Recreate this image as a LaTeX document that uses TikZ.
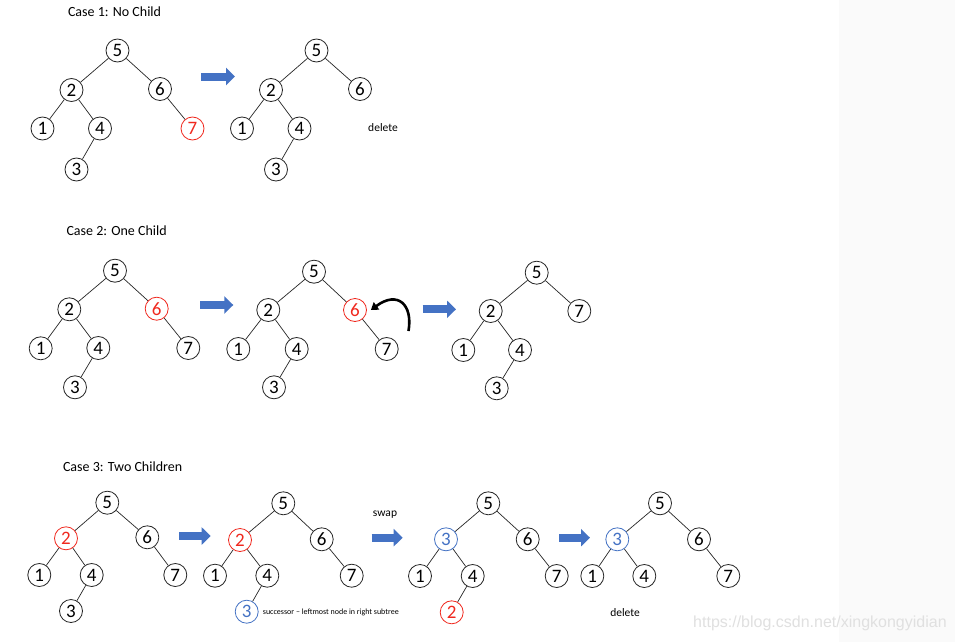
\documentclass[tikz,border=0pt]{standalone}
\usepackage{fontspec}
\setmainfont{Carlito}
\newfontfamily\wmfont{Liberation Sans}
\usetikzlibrary{arrows.meta}
\definecolor{delred}{RGB}{240,40,30}
\definecolor{succblue}{RGB}{68,114,196}
\definecolor{arrowblue}{RGB}{68,114,196}
\definecolor{stripgray}{RGB}{250,250,250}

\begin{document}
\begin{tikzpicture}[x=1pt,y=-1pt,
  key/.style={circle,draw=black!85,line width=0.8pt,minimum size=23pt,inner sep=0pt,font=\fontsize{19}{19}\selectfont},
  delkey/.style={key,draw=delred,text=delred},
  succkey/.style={key,draw=succblue,text=succblue},
  link/.style={draw=black!85,line width=0.7pt},
  bigarrow/.style={arrowblue,line width=8pt,-{Triangle[length=9pt,width=17pt]}},
  casetitle/.style={anchor=west,font=\fontsize{14}{16}\selectfont},
  note/.style={font=\fontsize{11.5}{13}\selectfont}]
 \useasboundingbox (0,0) rectangle (955,642);
 \fill[white] (0,0) rectangle (955,642);
 \fill[stripgray] (839,0) rectangle (955,642);

 % case 1
 \node[casetitle] (t1) at (64.5,11.5) {Case 1: No Child};
 \node[key] (a5) at (117.5,50.5) {5};
 \node[key] (a2) at (71.5,90) {2};
 \node[key] (a6) at (160,89) {6};
 \node[key] (a1) at (42.5,128.5) {1};
 \node[key] (a4) at (100,128.5) {4};
 \node[delkey] (a7) at (192.5,128.5) {7};
 \node[key] (a3) at (76.5,169.5) {3};
 \draw[link] (a5) -- (a2) (a5) -- (a6) (a2) -- (a1) (a2) -- (a4) (a4) -- (a3) (a6) -- (a7);
 \draw[bigarrow] (201,76.5) -- (235,76.5);
 \node[key] (b5) at (316.5,50.5) {5};
 \node[key] (b2) at (271,90) {2};
 \node[key] (b6) at (360,89) {6};
 \node[key] (b1) at (242,128.5) {1};
 \node[key] (b4) at (299.5,128.5) {4};
 \node[key] (b3) at (276,169.5) {3};
 \draw[link] (b5) -- (b2) (b5) -- (b6) (b2) -- (b1) (b2) -- (b4) (b4) -- (b3);
 \node[note] (del1) at (383,127.5) {delete};

 % case 2
 \node[casetitle] (t2) at (63,231) {Case 2: One Child};
 \node[key] (c5) at (115,270.7) {5};
 \node[key] (c2) at (69.3,309.3) {2};
 \node[delkey] (c6) at (156.7,308.7) {6};
 \node[key] (c1) at (40.7,348.3) {1};
 \node[key] (c4) at (98.3,348) {4};
 \node[key] (c7) at (188.3,348) {7};
 \node[key] (c3) at (75,387.3) {3};
 \draw[link] (c5) -- (c2) (c5) -- (c6) (c2) -- (c1) (c2) -- (c4) (c4) -- (c3) (c6) -- (c7);
 \draw[bigarrow] (200,305) -- (233.3,305);
 \node[key] (d5) at (314,271.7) {5};
 \node[key] (d2) at (268.3,310) {2};
 \node[delkey] (d6) at (355,310) {6};
 \node[key] (d1) at (238.3,349) {1};
 \node[key] (d4) at (296.7,349) {4};
 \node[key] (d7) at (386.7,349) {7};
 \node[key] (d3) at (274,387.3) {3};
 \draw[link] (d5) -- (d2) (d5) -- (d6) (d2) -- (d1) (d2) -- (d4) (d4) -- (d3) (d6) -- (d7);
 \coordinate (lift) at (408.5,331);
 \draw[line width=2.6pt,-{Triangle[length=7pt,width=9pt]}] (lift) .. controls (413,305) and (398,290) .. ([xshift=4pt]d6.east);
 \draw[bigarrow] (422.7,309.3) -- (456,309.3);
 \node[key] (e5) at (536.7,272.7) {5};
 \node[key] (e2) at (490.7,311) {2};
 \node[key] (e7) at (579.3,311) {7};
 \node[key] (e1) at (463.3,350) {1};
 \node[key] (e4) at (520,350) {4};
 \node[key] (e3) at (496.7,388.3) {3};
 \draw[link] (e5) -- (e2) (e5) -- (e7) (e2) -- (e1) (e2) -- (e4) (e4) -- (e3);

 % case 3
 \node[casetitle] (t3) at (59.5,466.5) {Case 3: Two Children};
 \node[key] (f5) at (107.3,502.7) {5};
 \node[delkey] (f2) at (66,538.3) {2};
 \node[key] (f6) at (147.3,537.3) {6};
 \node[key] (f1) at (39.3,575) {1};
 \node[key] (f4) at (91.7,575) {4};
 \node[key] (f7) at (175.3,575) {7};
 \node[key] (f3) at (71,611) {3};
 \draw[link] (f5) -- (f2) (f5) -- (f6) (f2) -- (f1) (f2) -- (f4) (f4) -- (f3) (f6) -- (f7);
 \draw[bigarrow] (179.3,536) -- (210.7,536);
 \node[key] (g5) at (283.3,503.3) {5};
 \node[delkey] (g2) at (240,540) {2};
 \node[key] (g6) at (321.7,539.3) {6};
 \node[key] (g1) at (215,575.7) {1};
 \node[key] (g4) at (267.3,575.7) {4};
 \node[key] (g7) at (351.7,575.7) {7};
 \node[succkey] (g3) at (246.7,611.7) {3};
 \draw[link] (g5) -- (g2) (g5) -- (g6) (g2) -- (g1) (g2) -- (g4) (g4) -- (g3) (g6) -- (g7);
 \node[anchor=west,font=\fontsize{8}{9}\selectfont,inner sep=0pt] (succ) at (262.7,612.3) {successor -- leftmost node in right subtree};
 \node[note] (swap) at (385,515) {swap};
 \draw[bigarrow] (371.7,537.7) -- (402.7,537.7);
 \node[key] (h5) at (488.3,503.3) {5};
 \node[succkey] (h3) at (446,539.3) {3};
 \node[key] (h6) at (527.7,539.3) {6};
 \node[key] (h1) at (420,576) {1};
 \node[key] (h4) at (472.7,576) {4};
 \node[key] (h7) at (556.7,576) {7};
 \node[delkey] (h2) at (451.7,612.3) {2};
 \draw[link] (h5) -- (h3) (h5) -- (h6) (h3) -- (h1) (h3) -- (h4) (h4) -- (h2) (h6) -- (h7);
 \draw[bigarrow] (559,537.7) -- (590,537.7);
 \node[key] (k5) at (660,503.3) {5};
 \node[succkey] (k3) at (617.3,539.3) {3};
 \node[key] (k6) at (699,539.3) {6};
 \node[key] (k1) at (592.3,576) {1};
 \node[key] (k4) at (644.3,576) {4};
 \node[key] (k7) at (728.3,576) {7};
 \draw[link] (k5) -- (k3) (k5) -- (k6) (k3) -- (k1) (k3) -- (k4) (k6) -- (k7);
 \node[note] (del3) at (625,612.3) {delete};

 \node[anchor=west,inner sep=0pt,text=black!12,font=\wmfont\fontsize{16}{18}\selectfont] (wm) at (693,623) {https://blog.csdn.net/xingkongyidian};
\end{tikzpicture}
\end{document}
